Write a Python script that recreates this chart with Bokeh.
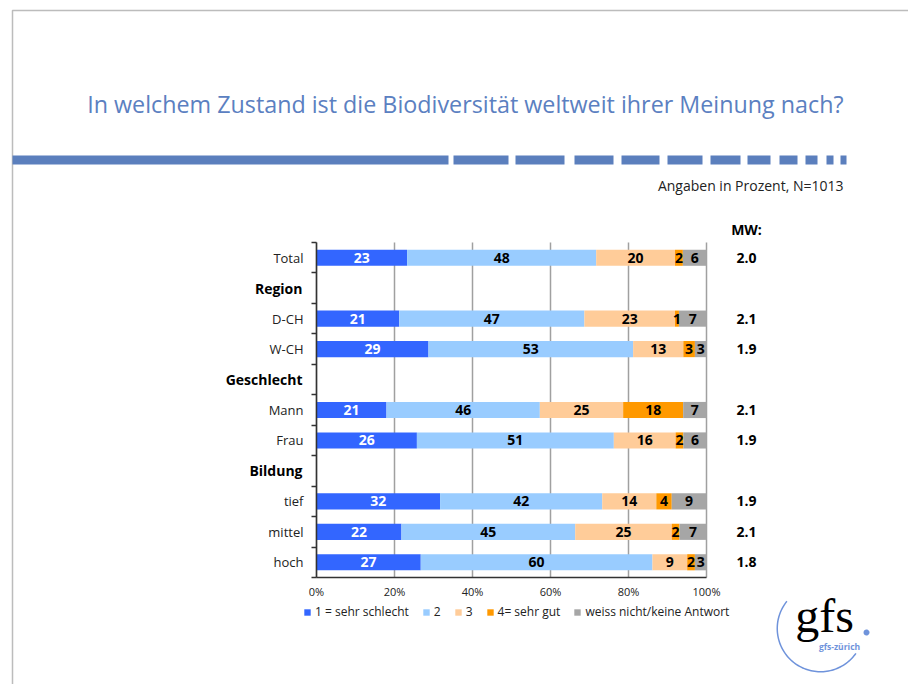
import numpy as np
from bokeh.plotting import figure
from bokeh.models import (ColumnDataSource, Range1d, FixedTicker, PrintfTickFormatter,
                          LabelSet, Label, BoxAnnotation, PolyAnnotation, Legend, LegendItem,
                          LinearAxis, Grid)
from bokeh.core.properties import value
from bokeh.embed import file_html
from bokeh.resources import INLINE

# ---------------- data ----------------
categories = ["Total", "Region", "D-CH", "W-CH", "Geschlecht", "Mann", "Frau",
              "Bildung", "tief", "mittel", "hoch"]
header_rows = ["Region", "Geschlecht", "Bildung"]
series_names = ["1 = sehr schlecht", "2", "3", "4= sehr gut", "weiss nicht/keine Antwort"]
bar_rows = ["Total", "D-CH", "W-CH", "Mann", "Frau", "tief", "mittel", "hoch"]
s1 = [23, 21, 29, 21, 26, 32, 22, 27]
s2 = [48, 47, 53, 46, 51, 42, 45, 60]
s3 = [20, 23, 13, 25, 16, 14, 25, 9]
s4 = [2, 1, 3, 18, 2, 4, 2, 2]
s5 = [6, 7, 3, 7, 6, 9, 7, 3]
mw_values = ["2.0", "2.1", "1.9", "2.1", "1.9", "1.9", "2.1", "1.8"]
x_ticks = [0, 20, 40, 60, 80, 100]

colors = ["#3366FF", "#99CCFF", "#FFCC99", "#FF9900", "#A6A6A6"]
label_colors = ["white", "black", "black", "black", "black"]
FONT = "Open Sans"
BLUE = "#5B80C1"
LOGO_BLUE = "#6F93DB"

# ---------------- layout helpers (page px -> data) ----------------
W, H = 908, 684
FL, FT, FW, FH = 316, 242, 390, 335      # chart plot area in page pixels
def dx(px):
    return (px - FL) / (FW / 100.0)
def dy(py):
    return (py - FT) / (FH / 11.0)

p = figure(width=W, height=H, x_range=Range1d(dx(0), dx(W)), y_range=Range1d(dy(H), dy(0)),
           output_backend="svg", toolbar_location=None,
           x_axis_location=None, y_axis_location=None, min_border=0)
p.outline_line_color = None
p.background_fill_color = "white"
p.border_fill_color = "white"
p.xgrid.visible = False
p.ygrid.visible = False

# grid + axes of the chart area
p.add_layout(Grid(dimension=0, ticker=FixedTicker(ticks=x_ticks), cross_bounds=(0, 11),
                  grid_line_color="#A0A0A0", grid_line_width=1.5))

xaxis = LinearAxis(fixed_location=11, bounds=(0, 100), ticker=FixedTicker(ticks=x_ticks),
                   formatter=PrintfTickFormatter(format="%d%%"))
xaxis.major_label_text_font_size = "11px"
xaxis.major_label_text_font = FONT
xaxis.major_label_text_color = "#222222"
xaxis.axis_line_color = "#333333"
xaxis.axis_line_width = 1.5
xaxis.major_tick_out = 0
xaxis.major_tick_in = 0
xaxis.minor_tick_line_color = None
xaxis.major_label_standoff = 6
p.add_layout(xaxis, "below")

yaxis = LinearAxis(fixed_location=0, bounds=(0, 11), ticker=FixedTicker(ticks=list(range(12))))
yaxis.major_label_text_alpha = 0
yaxis.major_label_text_font_size = "1px"
yaxis.axis_line_color = "#333333"
yaxis.axis_line_width = 1.5
yaxis.major_tick_line_color = "#333333"
yaxis.major_tick_line_width = 1.5
yaxis.major_tick_out = 5
yaxis.major_tick_in = 0
yaxis.minor_tick_line_color = None
p.add_layout(yaxis, "left")

# ---------------- bars ----------------
series = [s1, s2, s3, s4, s5]
totals = np.array([sum(v) for v in zip(*series)], dtype=float)
ys = [categories.index(r) + 0.5 for r in bar_rows]
data = {"y": ys, "mw": mw_values}
cum = np.zeros(len(bar_rows))
for k, s in enumerate(series):
    share = np.array(s) / totals * 100.0
    data[f"l{k}"] = cum.copy()
    data[f"r{k}"] = cum + share
    data[f"m{k}"] = cum + share / 2
    data[f"t{k}"] = [str(v) for v in s]
    cum = cum + share
src = ColumnDataSource(data)

renderers = []
for k in range(5):
    r = p.hbar(y="y", left=f"l{k}", right=f"r{k}", height=0.53, fill_color=colors[k],
               line_color=None, source=src)
    renderers.append(r)
for k in range(5):
    p.add_layout(LabelSet(x=f"m{k}", y="y", text=f"t{k}", source=src, text_align="center",
                          text_baseline="middle", text_font=value(FONT), text_font_style="bold",
                          text_font_size="14px", text_color=label_colors[k]))

# MW column
p.add_layout(Label(x=dx(746), y=dy(229), text="MW:", text_align="center", text_baseline="middle",
                   text_font=FONT, text_font_style="bold", text_font_size="14px", text_color="black"))
p.add_layout(LabelSet(x=dx(746), y="y", text="mw", source=src, text_align="center",
                      text_baseline="middle", text_font=value(FONT), text_font_style="bold",
                      text_font_size="14px", text_color="black"))

# category labels
norm = [c for c in categories if c not in header_rows]
head = [c for c in categories if c in header_rows]
src_norm = ColumnDataSource({"y": [categories.index(c) + 0.5 for c in norm], "t": norm})
src_head = ColumnDataSource({"y": [categories.index(c) + 0.5 for c in head], "t": head})
p.add_layout(LabelSet(x=0, y="y", text="t", source=src_norm, x_offset=-13, text_align="right",
                      text_baseline="middle", text_font=value(FONT), text_font_size="13px",
                      text_color="#222222"))
p.add_layout(LabelSet(x=0, y="y", text="t", source=src_head, x_offset=-14, text_align="right",
                      text_baseline="middle", text_font=value(FONT), text_font_style="bold",
                      text_font_size="14px", text_color="black"))

# legend
legend = Legend(items=[LegendItem(label=n, renderers=[r]) for n, r in zip(series_names, renderers)],
                orientation="horizontal", location=(303, H - 620))
legend.background_fill_alpha = 0
legend.border_line_color = None
legend.padding = 0
legend.margin = 0
legend.spacing = 13
legend.label_standoff = 4
legend.label_width = 0
legend.glyph_width = 8
legend.glyph_height = 8
legend.label_height = 12
legend.label_text_font = FONT
legend.label_text_font_size = "12px"
legend.label_text_color = "#222222"
p.add_layout(legend)

# ---------------- slide decorations ----------------
p.add_layout(BoxAnnotation(left=dx(12), right=dx(1000), top=dy(10), bottom=dy(1000),
                           fill_alpha=0, line_color="#222222", line_width=1.5))
p.add_layout(Label(x=dx(843), y=dy(103), text="In welchem Zustand ist die Biodiversität weltweit ihrer Meinung nach?",
                   text_align="right", text_baseline="middle", text_font=FONT,
                   text_font_size="23.3px", text_color=BLUE))
p.add_layout(Label(x=dx(843), y=dy(185), text="Angaben in Prozent, N=1013",
                   text_align="right", text_baseline="middle", text_font=FONT,
                   text_font_size="14px", text_color="#222222"))
dash_segments = [(12, 448), (453, 508), (515, 564), (574, 613), (621, 659), (667, 702),
                 (710, 740), (747, 770), (779, 797), (805, 817), (826, 833), (840, 846)]
for a, b in dash_segments:
    p.add_layout(BoxAnnotation(left=dx(a), right=dx(b), top=dy(155), bottom=dy(164),
                               fill_color="#5B7FBD", fill_alpha=1, line_color=None))

# logo
cx, cy, ro, ri = 820, 628, 44.0, 42.5
ang = np.linspace(np.radians(141), np.radians(325), 80)
xs = [dx(cx + ro * np.cos(a)) for a in ang] + [dx(cx + ri * np.cos(a)) for a in ang[::-1]]
ysr = [dy(cy - ro * np.sin(a)) for a in ang] + [dy(cy - ri * np.sin(a)) for a in ang[::-1]]
p.add_layout(PolyAnnotation(xs=xs, ys=ysr, fill_color=LOGO_BLUE, fill_alpha=1, line_color=None))
p.add_layout(Label(x=dx(824), y=dy(615), text="gfs", text_align="center", text_baseline="middle",
                   text_font="Liberation Serif", text_font_size="48px", text_color="black"))
dang = np.linspace(0, 2 * np.pi, 20)
p.add_layout(PolyAnnotation(xs=[dx(866 + 3 * np.cos(a)) for a in dang],
                            ys=[dy(632 - 3 * np.sin(a)) for a in dang],
                            fill_color=LOGO_BLUE, fill_alpha=1, line_color=None))
p.add_layout(Label(x=dx(839), y=dy(646), text="gfs-zürich", text_align="center", text_baseline="middle",
                   text_font=FONT, text_font_style="bold", text_font_size="8.5px", text_color=LOGO_BLUE))

open("out.html", "w").write(file_html(p, INLINE))
